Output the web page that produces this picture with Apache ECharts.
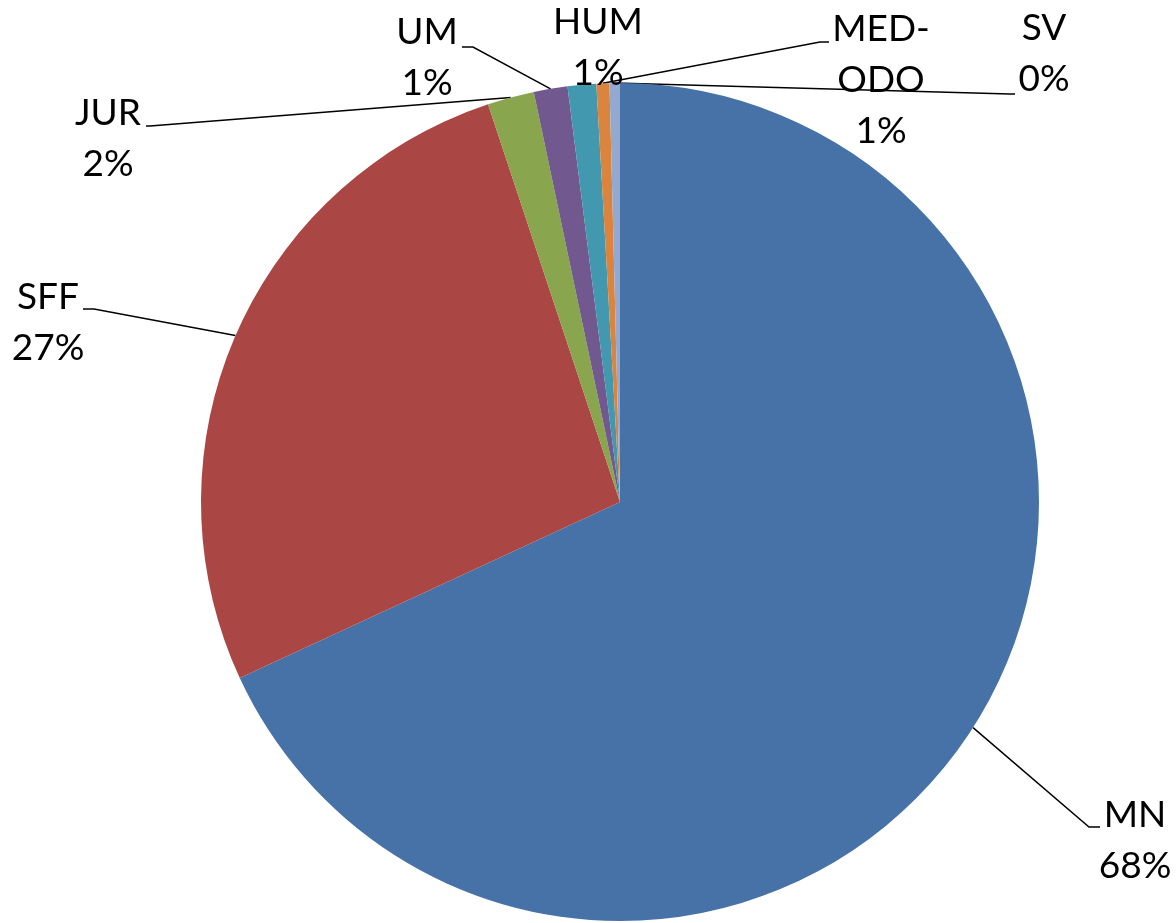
<!DOCTYPE html>
<html>
<head>
<meta charset="utf-8">
<script src="https://cdn.jsdelivr.net/npm/echarts@6/dist/echarts.min.js"></script>
<style>
  html, body { margin: 0; padding: 0; background: #fff; }
  #chart { width: 1176px; height: 923px; }
</style>
</head>
<body>
<div id="chart"></div>
<script>
// Data
const categories = ['MN', 'SFF', 'JUR', 'UM', 'HUM', 'MED-ODO', 'SV'];
const values = [68.1, 26.8, 1.8, 1.3, 1.1, 0.5, 0.4];
const colors = ['#4672A8', '#AA4744', '#89A54E', '#71588F', '#4198AF', '#DB843D', '#93A9CF'];

// Label layout (text block centers and leader-line elbows/ends)
const labelCenters = [[1135, 841], [48, 323], [108, 139], [427, 58], [598, 48], [881, 80], [1044, 54]];
const leaderElbows = [[1089, 827], [94, 309], [150, 126], [473, 47], null, [820, 42], [1010, 94]];
const leaderEnds = [[1100, 827], [83, 309], [146, 126], [462, 47], null, [829, 42], [1015, 94]];

const chart = echarts.init(document.getElementById('chart'), null, { renderer: 'canvas' });

const data = categories.map((name, i) => ({
  name: name,
  value: values[i],
  itemStyle: { color: colors[i] },
  labelLine: { show: leaderElbows[i] !== null }
}));

chart.setOption({
  animation: false,
  backgroundColor: '#ffffff',
  series: [{
    type: 'pie',
    center: [620, 502],
    radius: 419,
    startAngle: 90,
    clockwise: true,
    avoidLabelOverlap: false,
    data: data,
    itemStyle: { borderWidth: 0 },
    emphasis: { disabled: true },
    label: {
      show: true,
      position: 'outside',
      color: '#000',
      fontFamily: 'Lato',
      fontSize: 37,
      lineHeight: 51,
      align: 'center',
      formatter: function (p) {
        return p.name.replace('-', '-\n') + '\n' + Math.round(p.value) + '%';
      }
    },
    labelLine: {
      show: true,
      length: 10,
      length2: 10,
      lineStyle: { color: '#000', width: 1.5 }
    },
    labelLayout: function (params) {
      const i = params.dataIndex;
      const res = {
        x: labelCenters[i][0],
        y: labelCenters[i][1],
        align: 'center',
        verticalAlign: 'middle'
      };
      if (leaderElbows[i] && params.labelLinePoints) {
        res.labelLinePoints = [params.labelLinePoints[0], leaderElbows[i], leaderEnds[i]];
      }
      return res;
    }
  }]
});
</script>
</body>
</html>
